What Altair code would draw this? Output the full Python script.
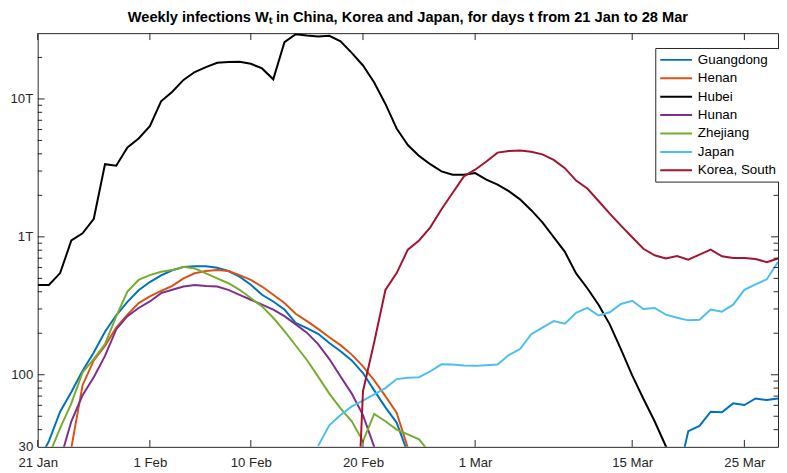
import altair as alt
import pandas as pd

SERIES = ["Guangdong", "Henan", "Hubei", "Hunan", "Zhejiang", "Japan", "Korea, South"]
COLORS = ["#0072BD", "#D95319", "#000000", "#7E2F8E", "#77AC30", "#4DBEEE", "#A2142F"]

# day 0 = left edge of the plot; values = weekly infections
guangdong_a_start = 0
guangdong_a = [23, 33, 54, 75, 107, 145, 205, 270, 338, 410, 470, 526, 572, 604, 612, 613, 596,
               565, 514, 450, 380, 340, 297, 238, 218, 198, 170, 148, 127, 103, 77, 58, 45, 27]
guangdong_b_start = 57
guangdong_b = [17, 39, 42.6, 54, 53.4, 62, 60.3, 67.3, 65.5, 67.3]

henan_start = 3
henan = [29.5, 84, 127, 162, 220, 273, 331, 370, 405, 441, 500, 544, 565, 574, 565, 528, 487,
         436, 380, 331, 277, 245, 215, 187, 164, 140, 115, 91, 70, 53, 29.5, 15]

hubei_start = 0
hubei = [448, 448, 546, 941, 1061, 1352, 3365, 3275, 4453, 5164, 6339, 9613, 11275, 13745,
         15680, 17030, 18290, 18500, 18580, 17990, 16640, 13880, 25840, 29500, 28850, 28390,
         28670, 26140, 21570, 17490, 13150, 9200, 6110, 4630, 3865, 3365, 2983, 2825, 2825,
         2900, 2602, 2395, 2145, 1871, 1561, 1272, 994, 778, 543, 424, 322, 232, 153, 99, 67,
         46, 30.3, 20]

hunan_start = 2
hunan = [24, 46, 71, 96, 137, 213, 266, 305, 340, 391, 413, 436, 448, 440, 436, 413, 380, 350,
         322, 297, 266, 232, 202, 167, 130, 97, 73, 51, 30, 15]

zhejiang_start = 1
zhejiang = [26, 41, 62, 104, 130, 167, 265, 401, 487, 528, 558, 574, 606, 590, 543, 500, 461,
            413, 360, 313, 259, 207, 163, 128, 97, 73, 57, 46, 33, 52, 46, 40, 37, 34, 27]

japan_start = 25
japan = [30.5, 43, 51, 59, 65, 72, 80, 93, 95, 96, 106, 119, 118.5, 116.6, 116, 117.3, 118.5,
         139, 153.5, 197, 219.5, 245, 234.5, 281, 305, 269, 284, 326, 344, 300, 305, 273, 259,
         248, 250.5, 297, 287, 322, 413, 453, 492, 658]

korea_start = 28
korea = [1, 76, 172, 412, 546, 807, 941, 1172, 1586, 2086, 2747, 3068, 3518, 4080, 4196, 4225,
         4147, 3966, 3617, 3149, 2559, 2243, 1819, 1475, 1205, 994, 820, 735, 696, 726, 684,
         743, 807, 723, 703, 703, 691, 655, 696]

x_tick_days = [0, 10, 19, 29, 39, 53, 63]
x_tick_labels = ["21 Jan", "1 Feb", "10 Feb", "20 Feb", "1 Mar", "15 Mar", "25 Mar"]
y_label_values = [30, 100, 1000, 10000]
y_major_ticks = [100, 1000, 10000]
y_minor_ticks = [40, 50, 60, 70, 80, 90, 200, 300, 400, 500, 600, 700, 800, 900,
                 2000, 3000, 4000, 5000, 6000, 7000, 8000, 9000, 20000]

segments = [
    ("Guangdong", "g1", guangdong_a_start, guangdong_a),
    ("Guangdong", "g2", guangdong_b_start, guangdong_b),
    ("Henan", "he", henan_start, henan),
    ("Hubei", "hb", hubei_start, hubei),
    ("Hunan", "hn", hunan_start, hunan),
    ("Zhejiang", "zj", zhejiang_start, zhejiang),
    ("Japan", "jp", japan_start, japan),
    ("Korea, South", "kr", korea_start, korea),
]
rows = []
for name, seg, start, vals in segments:
    for i, v in enumerate(vals):
        rows.append({"series": name, "seg": seg, "day": start + i, "value": v})
df = pd.DataFrame(rows)

W, H = 748, 418
AX = "#262626"
FONT = "Liberation Sans"

xscale = alt.Scale(domain=[0, 66], nice=False, zero=False)
yscale = alt.Scale(type="log", domain=[30, 30000], nice=False)

label_expr = " : ".join(
    f"datum.value == {d} ? '{l}'" for d, l in zip(x_tick_days, x_tick_labels)
) + " : ''"

lines = alt.Chart(df).mark_line(strokeWidth=2, clip=True).encode(
    x=alt.X("day:Q", scale=xscale,
            axis=alt.Axis(values=x_tick_days, labelExpr=label_expr, title=None,
                          labelPadding=9, labelFlush=False)),
    y=alt.Y("value:Q", scale=yscale,
            axis=alt.Axis(values=y_label_values, title=None, labelPadding=5,
                          labelExpr="datum.value >= 1000 ? (datum.value/1000) + 'T' : '' + datum.value")),
    color=alt.Color("series:N", scale=alt.Scale(domain=SERIES, range=COLORS),
                    legend=alt.Legend(title=None, orient="none", legendX=624, legendY=15,
                                      strokeColor=AX, fillColor="white", padding=4,
                                      symbolType="M-1,0H3.6", symbolSize=196,
                                      symbolStrokeWidth=2, labelFont=FONT,
                                      labelFontSize=13.5, labelColor="#000",
                                      rowPadding=3.6, labelOffset=23, labelLimit=200)),
    detail="seg:N",
    order="day:Q",
)

ymaj = pd.DataFrame({"v": y_major_ticks})
ymin = pd.DataFrame({"v": y_minor_ticks})
xt = pd.DataFrame({"d": x_tick_days})

def yt(data, x1, x2):
    return alt.Chart(data).mark_rule(color=AX, strokeWidth=1).encode(
        y=alt.Y("v:Q", scale=yscale, axis=None), x=alt.value(x1), x2=alt.value(x2))

def xtk(y1, y2):
    return alt.Chart(xt).mark_rule(color=AX, strokeWidth=1).encode(
        x=alt.X("d:Q", scale=xscale, axis=None), y=alt.value(y1), y2=alt.value(y2))

ticks = [
    yt(ymaj, 0, 7), yt(ymin, 0, 4.5), yt(ymaj, W - 7, W), yt(ymin, W - 4.5, W),
    xtk(H - 7, H), xtk(0, 7),
]

chart = alt.layer(lines, *ticks).resolve_axis(x="independent", y="independent").properties(
    width=W, height=H,
    autosize=alt.AutoSizeParams(type="none"),
    padding={"left": 30, "top": 23, "right": 1, "bottom": 24},
    title=alt.TitleParams(
        text="Weekly infections W\u209c in China, Korea and Japan, for days t from  21 Jan to 28 Mar",
        font=FONT, fontSize=14.8, fontWeight="bold", color="#000", anchor="middle", offset=8),
).configure_view(stroke=AX, strokeWidth=1).configure_axis(
    domain=False, ticks=False, grid=False, labelFont=FONT, labelFontSize=13.33, labelColor=AX
)

chart.save("out.html", embed_options={"renderer": "svg", "actions": False})
